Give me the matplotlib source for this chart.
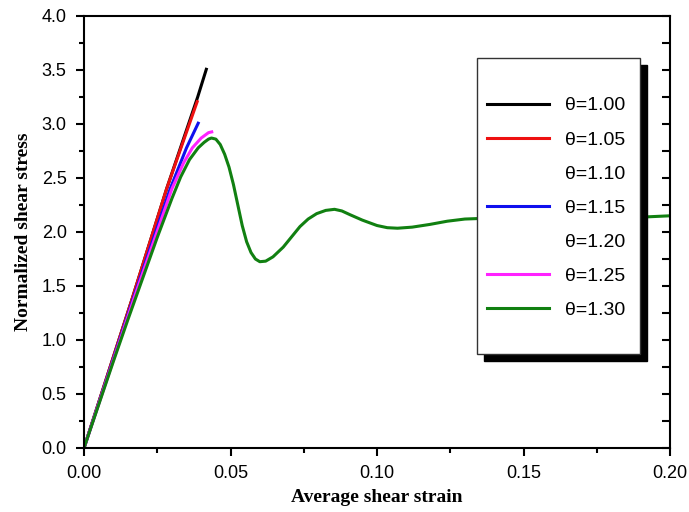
import matplotlib as mpl
import matplotlib.pyplot as plt
from matplotlib.lines import Line2D
from matplotlib.patches import Rectangle

mpl.rcParams.update(
    {
        "font.family": "sans-serif",
        "font.sans-serif": ["Liberation Sans", "DejaVu Sans"],
        "font.size": 13,
        "axes.linewidth": 1.5,
    }
)

# data
theta_labels = ["θ=1.00", "θ=1.05", "θ=1.10", "θ=1.15", "θ=1.20", "θ=1.25", "θ=1.30"]
theta_colors = ["black", "#ee1111", None, "#1010ee", None, "#ff22ff", "#118011"]

x_100 = [0.0, 0.0163, 0.0282, 0.0388, 0.0419]
y_100 = [0.0, 1.37, 2.40, 3.25, 3.52]

x_105 = [0.0, 0.0163, 0.0282, 0.0388]
y_105 = [0.0, 1.37, 2.40, 3.22]

x_115 = [0.0, 0.0165, 0.0294, 0.0350, 0.0392]
y_115 = [0.0, 1.36, 2.40, 2.78, 3.02]

x_125 = [0.0, 0.017, 0.030, 0.034, 0.037, 0.040, 0.0425, 0.0441]
y_125 = [0.0, 1.38, 2.40, 2.64, 2.78, 2.87, 2.92, 2.93]

x_130 = [0.0, 0.005, 0.010, 0.015, 0.020, 0.025, 0.030, 0.033, 0.036, 0.039,
         0.041, 0.0425, 0.0435, 0.0450, 0.0465, 0.0480, 0.0495, 0.0510, 0.0525,
         0.0540, 0.0555, 0.0570, 0.0585, 0.0600, 0.0620, 0.0645, 0.068, 0.071,
         0.0737, 0.0765, 0.0794, 0.0825, 0.0855, 0.0880, 0.0908, 0.095, 0.100,
         0.1035, 0.107, 0.112, 0.118, 0.124, 0.130, 0.140, 0.150, 0.170, 0.185,
         0.192, 0.200]
y_130 = [0.0, 0.40, 0.80, 1.19, 1.57, 1.95, 2.31, 2.51, 2.67, 2.78,
         2.83, 2.86, 2.87, 2.86, 2.81, 2.72, 2.60, 2.44, 2.25,
         2.06, 1.91, 1.81, 1.75, 1.725, 1.73, 1.77, 1.86, 1.96,
         2.05, 2.12, 2.17, 2.20, 2.21, 2.195, 2.16, 2.11, 2.06,
         2.04, 2.035, 2.045, 2.07, 2.10, 2.12, 2.13, 2.13, 2.13, 2.14,
         2.14, 2.15]

series_x = [x_100, x_105, None, x_115, None, x_125, x_130]
series_y = [y_100, y_105, None, y_115, None, y_125, y_130]

W, H = 689, 512
fig = plt.figure(figsize=(W / 100, H / 100), dpi=100)
ax = fig.add_axes([84 / W, 1 - 448 / H, 586 / W, 432 / H])

handles = []
for xs, ys, c, lab in zip(series_x, series_y, theta_colors, theta_labels):
    if xs is None:
        handles.append(Line2D([], [], color="none", label=lab))
        continue
    ax.plot(xs, ys, color=c, lw=2.2, solid_capstyle="butt", solid_joinstyle="round")
    handles.append(Line2D([], [], color=c, lw=2.2, label=lab))

ax.set_xlim(0, 0.20)
ax.set_ylim(0, 4.0)
ax.set_xticks([0.0, 0.05, 0.10, 0.15, 0.20])
ax.set_xticks([0.025, 0.075, 0.125, 0.175], minor=True)
ax.set_yticks([0.5 * i for i in range(9)])
ax.set_yticks([0.25 + 0.5 * i for i in range(8)], minor=True)
ax.xaxis.set_major_formatter(mpl.ticker.FormatStrFormatter("%.2f"))
ax.yaxis.set_major_formatter(mpl.ticker.FormatStrFormatter("%.1f"))
ax.tick_params(which="major", direction="out", length=5.5, width=1.5,
               top=False, right=False)
ax.tick_params(which="minor", direction="out", length=3.5, width=1.5,
               top=False, right=False)
ax.tick_params(axis="x", which="major", pad=6.5)
ax.tick_params(axis="y", which="major", pad=7)

ax_r = ax.twinx()
ax_r.set_ylim(0, 4.0)
ax_r.set_yticks([0.25 * i for i in range(17)])
ax_r.tick_params(axis="y", direction="in", length=6, width=1.5, labelright=False)
for s in ax_r.spines.values():
    s.set_visible(False)

label_font = dict(family="Liberation Serif", weight="bold", size=14)
ax.set_xlabel("Average shear strain", fontdict=label_font, labelpad=5)
ax.set_ylabel("Normalized shear stress", fontdict=label_font, labelpad=7)

# legend box with black drop shadow
box_x0, box_y0, box_x1, box_y1 = 477, 58, 640, 354
shadow = Rectangle(((box_x0 + 7) / W, 1 - (box_y1 + 7) / H),
                   (box_x1 - box_x0) / W, (box_y1 - box_y0) / H,
                   transform=fig.transFigure, facecolor="black", edgecolor="black",
                   zorder=10)
frame = Rectangle((box_x0 / W, 1 - box_y1 / H),
                  (box_x1 - box_x0) / W, (box_y1 - box_y0) / H,
                  transform=fig.transFigure, facecolor="white", edgecolor="#333333",
                  lw=1.0, zorder=11)
fig.patches.extend([shadow, frame])

leg = fig.legend(handles=handles, loc="center",
                 bbox_to_anchor=(556 / W, 1 - 208 / H),
                 frameon=False, fontsize=14, handlelength=3.2,
                 handletextpad=0.8, labelspacing=0.85, borderpad=0)
leg.set_zorder(12)

fig.savefig("out.png", dpi=100)
